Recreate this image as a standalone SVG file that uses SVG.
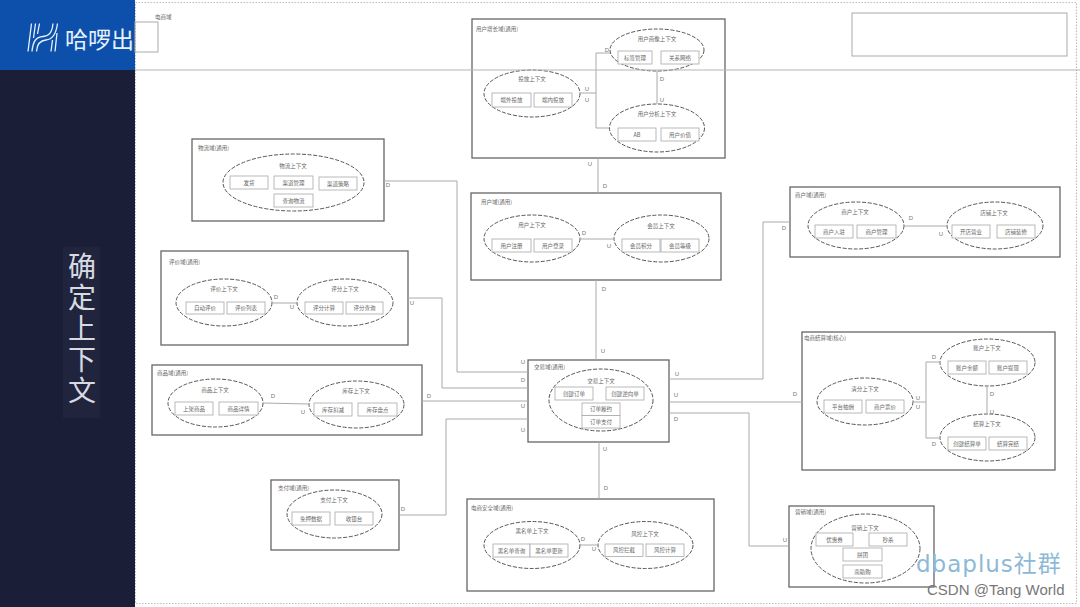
<svg xmlns="http://www.w3.org/2000/svg" width="1080" height="607" viewBox="0 0 1080 607">
<style>
text{font-family:"Noto Sans CJK SC","Liberation Sans",sans-serif;dominant-baseline:central}
.t{font-size:5.5px;fill:#666;text-anchor:middle}
.h{font-size:5.5px;fill:#666}
.l{font-size:6px;fill:#777;text-anchor:middle;font-family:"Liberation Sans",sans-serif}
.box{fill:#fff;stroke:#666;stroke-width:1.3}
.r{fill:#fff;stroke:#a8a8a8;stroke-width:.8}
.e{fill:none;stroke:#555;stroke-width:1;stroke-dasharray:4 1.6}
.c{fill:none;stroke:#aaa;stroke-width:1}
.p{fill:none;stroke:#aaa;stroke-width:1}
.g{fill:none;stroke:#e8f1fb;stroke-width:1.300}
</style>
<rect width="1080" height="607" fill="#fff"/>
<rect id="frame" x="135.500" y="2.500" width="941" height="601" fill="none" stroke="#bdbdbd" stroke-width="1.200" stroke-dasharray="1.500 1.500"/>
<g id="sidebar">
<rect x="0" y="70" width="135" height="537" fill="#1a1e36"/>
<rect x="0" y="0" width="135" height="70" fill="#0d50ab"/>
<path class="g" d="M28 51.500L31.500 23.500M32 51.500C33 41 36 37 43 36.500C49 36 52 33 53 23.500M36.500 51.500C37 44 40 40.500 46 40C52 39.500 56 35 57.500 23.500M35.500 23.500L33.500 38M39.500 23.500L37.500 34M51 51.500L52.500 40M55 51.500L57 33"/>
<text x="65" y="38" font-size="23" fill="#e8f1fb">哈啰出</text>
<rect x="63" y="247" width="37" height="171" fill="#20253d"/>
<text x="82" y="252" font-size="28" letter-spacing="3.200" fill="#d8dae2" style="writing-mode:vertical-rl">确定上下文</text>
</g>
<g id="domain-label">
<rect class="p" x="135" y="22" width="23" height="30"/>
<text x="155" y="17" class="h">电商域</text>
</g>
<rect id="top-right-box" x="852" y="13" width="215" height="43" fill="#fff" stroke="#aaa" stroke-width="1"/>

<g id="d-growth">
<rect class="box" x="472" y="19" width="253" height="139"/>
<text class="h" x="476" y="29">用户增长域(通用)</text>
<ellipse class="e" cx="657" cy="50" rx="47" ry="21"/>
<text class="t" x="657" y="39">用户画像上下文</text>
<rect class="r" x="618" y="51" width="34" height="13"/><text class="t" x="635" y="57.500">标签管理</text>
<rect class="r" x="661" y="51" width="38" height="13"/><text class="t" x="680" y="57.500">关系网络</text>
<ellipse class="e" cx="532" cy="93.500" rx="48" ry="23.500"/>
<text class="t" x="532" y="79">投放上下文</text>
<rect class="r" x="492" y="93" width="39" height="14"/><text class="t" x="511.500" y="100">端外投放</text>
<rect class="r" x="534" y="93" width="38" height="14"/><text class="t" x="553" y="100">端内投放</text>
<ellipse class="e" cx="657" cy="128" rx="47.500" ry="24"/>
<text class="t" x="657" y="114">用户分析上下文</text>
<rect class="r" x="618" y="128" width="38" height="13"/><text class="t" x="637" y="134.500">AB</text>
<rect class="r" x="661" y="128" width="38" height="13"/><text class="t" x="680" y="134.500">用户价值</text>
</g>

<g id="d-user">
<rect class="box" x="471" y="193" width="250" height="87"/>
<text class="h" x="481" y="202">用户域(通用)</text>
<ellipse class="e" cx="532" cy="238.500" rx="48" ry="23.500"/>
<text class="t" x="532" y="225">用户上下文</text>
<rect class="r" x="492" y="239" width="39" height="13"/><text class="t" x="511.500" y="245.500">用户注册</text>
<rect class="r" x="534" y="239" width="38" height="13"/><text class="t" x="553" y="245.500">用户登录</text>
<ellipse class="e" cx="661.500" cy="238.500" rx="47.500" ry="23.500"/>
<text class="t" x="661" y="226">会员上下文</text>
<rect class="r" x="622" y="239" width="38" height="13"/><text class="t" x="641" y="245.500">会员积分</text>
<rect class="r" x="661" y="239" width="38" height="13"/><text class="t" x="680" y="245.500">会员等级</text>
</g>

<g id="d-logistics">
<rect class="box" x="192" y="139" width="192" height="82"/>
<text class="h" x="198" y="148">物流域(通用)</text>
<ellipse class="e" cx="293.500" cy="182.500" rx="70.500" ry="28.500"/>
<text class="t" x="293" y="166">物流上下文</text>
<rect class="r" x="230" y="176" width="38" height="13"/><text class="t" x="249" y="182.500">发货</text>
<rect class="r" x="274" y="176" width="39" height="13"/><text class="t" x="293.500" y="182.500">渠道管理</text>
<rect class="r" x="319" y="177" width="38" height="13"/><text class="t" x="338" y="183.500">渠道策略</text>
<rect class="r" x="274" y="194" width="39" height="13"/><text class="t" x="293.500" y="200.500">查询物流</text>
</g>

<g id="d-review">
<rect class="box" x="161" y="251" width="247" height="94"/>
<text class="h" x="169" y="262">评价域(通用)</text>
<ellipse class="e" cx="224" cy="302.500" rx="48" ry="23.500"/>
<text class="t" x="224" y="289">评价上下文</text>
<rect class="r" x="186" y="302" width="38" height="12"/><text class="t" x="205" y="308">自动评价</text>
<rect class="r" x="227" y="302" width="38" height="12"/><text class="t" x="246" y="308">评价列表</text>
<ellipse class="e" cx="345" cy="302.500" rx="48" ry="23.500"/>
<text class="t" x="345" y="289">评分上下文</text>
<rect class="r" x="305" y="302" width="38" height="12"/><text class="t" x="324" y="308">评分计算</text>
<rect class="r" x="346" y="302" width="37" height="12"/><text class="t" x="364.500" y="308">评分查询</text>
</g>

<g id="d-goods">
<rect class="box" x="152" y="365" width="270" height="70"/>
<text class="h" x="157" y="373">商品域(通用)</text>
<ellipse class="e" cx="215.500" cy="403" rx="47.500" ry="24"/>
<text class="t" x="215" y="390">商品上下文</text>
<rect class="r" x="175" y="402" width="38" height="13"/><text class="t" x="194" y="408.500">上架商品</text>
<rect class="r" x="219" y="402" width="39" height="13"/><text class="t" x="238.500" y="408.500">商品详情</text>
<ellipse class="e" cx="356.500" cy="404.500" rx="47.500" ry="23.500"/>
<text class="t" x="356" y="391">库存上下文</text>
<rect class="r" x="314" y="403" width="38" height="13"/><text class="t" x="333" y="409.500">库存扣减</text>
<rect class="r" x="358" y="403" width="39" height="13"/><text class="t" x="377.500" y="409.500">库存盘点</text>
</g>

<g id="d-pay">
<rect class="box" x="271" y="480" width="128" height="70"/>
<text class="h" x="278" y="488">支付域(通用)</text>
<ellipse class="e" cx="334.500" cy="514" rx="47.500" ry="24"/>
<text class="t" x="334" y="500">支付上下文</text>
<rect class="r" x="292" y="512" width="38" height="13"/><text class="t" x="311" y="518.500">免押数据</text>
<rect class="r" x="335" y="512" width="38" height="13"/><text class="t" x="354" y="518.500">收银台</text>
</g>

<g id="d-trade">
<rect class="box" x="528" y="360" width="141" height="82"/>
<text class="h" x="534" y="367">交易域(通用)</text>
<ellipse class="e" cx="601" cy="400" rx="52" ry="31"/>
<text class="t" x="601" y="381">交易上下文</text>
<rect class="r" x="555" y="387" width="38" height="13"/><text class="t" x="574" y="393.500">创建订单</text>
<rect class="r" x="606" y="387" width="38" height="13"/><text class="t" x="625" y="393.500">创建逆向单</text>
<rect class="r" x="582" y="403" width="38" height="12.500"/><text class="t" x="601" y="409">订单履约</text>
<rect class="r" x="582" y="415.500" width="38" height="12.500"/><text class="t" x="601" y="421.500">订单支付</text>
</g>

<g id="d-security">
<rect class="box" x="467" y="499" width="247" height="92"/>
<text class="h" x="471" y="508">电商安全域(通用)</text>
<ellipse class="e" cx="532" cy="545" rx="48" ry="23.500"/>
<text class="t" x="532" y="531">黑名单上下文</text>
<rect class="r" x="493" y="544" width="37" height="13"/><text class="t" x="511.500" y="550.500">黑名单查询</text>
<rect class="r" x="530" y="544" width="38" height="13"/><text class="t" x="549" y="550.500">黑名单更新</text>
<ellipse class="e" cx="645.500" cy="545" rx="47.500" ry="23.500"/>
<text class="t" x="645" y="534">风控上下文</text>
<rect class="r" x="605" y="544" width="38" height="12.500"/><text class="t" x="624" y="550">风控拦截</text>
<rect class="r" x="646" y="544" width="38" height="12.500"/><text class="t" x="665" y="550">风控计算</text>
</g>

<g id="d-merchant">
<rect class="box" x="790" y="187" width="270" height="70"/>
<text class="h" x="795" y="195">商户域(通用)</text>
<ellipse class="e" cx="856" cy="225.500" rx="48" ry="23.500"/>
<text class="t" x="855" y="212">商户上下文</text>
<rect class="r" x="815" y="225" width="38" height="13"/><text class="t" x="834" y="231.500">商户入驻</text>
<rect class="r" x="857" y="225" width="39" height="13"/><text class="t" x="876.500" y="231.500">商户管理</text>
<ellipse class="e" cx="995" cy="225.500" rx="48" ry="23.500"/>
<text class="t" x="994" y="213">店铺上下文</text>
<rect class="r" x="952" y="225" width="38" height="13"/><text class="t" x="971" y="231.500">开店营业</text>
<rect class="r" x="997" y="225" width="38" height="13"/><text class="t" x="1016" y="231.500">店铺装修</text>
</g>

<g id="d-settle">
<rect class="box" x="802" y="332" width="253" height="138"/>
<text class="h" x="804" y="338">电商结算域(核心)</text>
<ellipse class="e" cx="865" cy="401.500" rx="48" ry="23.500"/>
<text class="t" x="865" y="389">清分上下文</text>
<rect class="r" x="824" y="400" width="38" height="13"/><text class="t" x="843" y="406.500">平台抽佣</text>
<rect class="r" x="866" y="400" width="38" height="13"/><text class="t" x="885" y="406.500">商户票价</text>
<ellipse class="e" cx="987.500" cy="362.500" rx="47.500" ry="23.500"/>
<text class="t" x="987" y="348">账户上下文</text>
<rect class="r" x="948" y="361" width="38" height="13"/><text class="t" x="967" y="367.500">账户余额</text>
<rect class="r" x="989" y="361" width="38" height="13"/><text class="t" x="1008" y="367.500">账户提现</text>
<ellipse class="e" cx="987.500" cy="437.500" rx="47.500" ry="23.500"/>
<text class="t" x="987" y="424">结算上下文</text>
<rect class="r" x="948" y="437" width="38" height="13"/><text class="t" x="967" y="443.500">创建结算单</text>
<rect class="r" x="989" y="437" width="38" height="13"/><text class="t" x="1008" y="443.500">结算完结</text>
</g>

<g id="d-marketing">
<rect class="box" x="789" y="506" width="145" height="81"/>
<text class="h" x="795" y="512">营销域(通用)</text>
<ellipse class="e" cx="865.500" cy="548.500" rx="54.500" ry="34.500"/>
<text class="t" x="865" y="528">营销上下文</text>
<rect class="r" x="816" y="533" width="37" height="13"/><text class="t" x="834.500" y="539.500">优惠券</text>
<rect class="r" x="869" y="533" width="38" height="13"/><text class="t" x="888" y="539.500">秒杀</text>
<rect class="r" x="843" y="548" width="39" height="13"/><text class="t" x="862.500" y="554.500">拼团</text>
<rect class="r" x="843" y="565" width="39" height="13"/><text class="t" x="862.500" y="571.500">南助购</text>
</g>

<g id="connectors">
<path class="c" d="M580 93H596M596 53V128M596 53H610M596 128H609M657 71V104"/>
<path class="c" d="M598 158V193M596 280V360M580 239H614"/>
<path class="c" d="M384 181H457V372H528M408 298H442V388H528M422 401H528M399 515H446V419H528"/>
<path class="c" d="M272 303H297M263 403L309 404M580 545H598"/>
<path class="c" d="M669 379H763V222H790M669 402H802M669 413H749V546H789M599 442V499"/>
<path class="c" d="M904 226H947M913 402H926M926 362V438M926 362H940M926 438H940M987 386V414"/>
</g>

<g id="connector-labels">
<text class="l" x="587" y="89">U</text><text class="l" x="587" y="100">U</text><text class="l" x="607" y="50">D</text><text class="l" x="662" y="79">D</text><text class="l" x="662" y="100">U</text>
<text class="l" x="590" y="164">U</text><text class="l" x="605" y="186">D</text><text class="l" x="584" y="233">D</text><text class="l" x="609" y="246">U</text>
<text class="l" x="604" y="289">D</text><text class="l" x="603" y="351">U</text><text class="l" x="523" y="362">U</text>
<text class="l" x="388" y="185">D</text><text class="l" x="276" y="297">D</text><text class="l" x="292" y="307">U</text><text class="l" x="412" y="303">U</text>
<text class="l" x="273" y="396">D</text><text class="l" x="303" y="412">U</text><text class="l" x="429" y="396">D</text><text class="l" x="403" y="509">D</text>
<text class="l" x="523" y="380">D</text><text class="l" x="523" y="406">U</text><text class="l" x="523" y="430">U</text>
<text class="l" x="677" y="374">U</text><text class="l" x="676" y="395">U</text><text class="l" x="676" y="419">D</text>
<text class="l" x="795" y="394">D</text><text class="l" x="784" y="228">D</text><text class="l" x="785" y="540">U</text>
<text class="l" x="605" y="449">U</text><text class="l" x="606" y="488">D</text><text class="l" x="583" y="539">D</text><text class="l" x="594" y="549">U</text>
<text class="l" x="911" y="218">D</text><text class="l" x="941" y="234">U</text>
<text class="l" x="918" y="398">U</text><text class="l" x="918" y="407">U</text><text class="l" x="934" y="357">D</text><text class="l" x="934" y="444">D</text><text class="l" x="992" y="394">D</text><text class="l" x="992" y="412">U</text>
</g>

<line id="h-rule" x1="135" y1="70" x2="1080" y2="70" stroke="#b5b5b5" stroke-width="1"/>
<g id="watermark">
<text x="916" y="564" font-size="23" fill="#8db9d6" letter-spacing="1" style="font-family:'DejaVu Sans','Noto Sans CJK SC',sans-serif">dbaplus社群</text>
<text x="927" y="589" font-size="15" fill="#777" style="font-family:'Liberation Sans',sans-serif">CSDN @Tang World</text>
</g>
</svg>
